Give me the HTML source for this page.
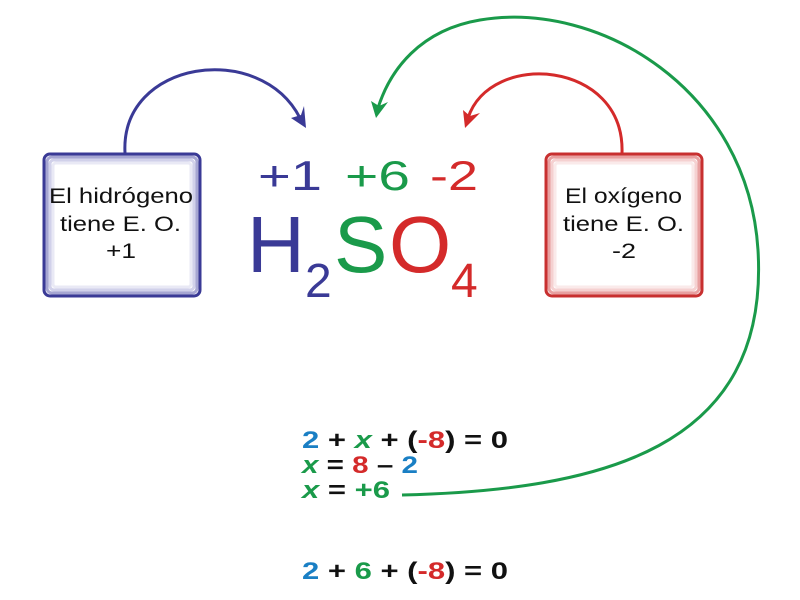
<!DOCTYPE html>
<html><head><meta charset="utf-8"><style>
body{margin:0;background:#fff}
svg{display:block}
text{font-family:"Liberation Sans",Verdana,sans-serif}
</style></head><body>
<svg width="800" height="600" viewBox="0 0 800 600">
<g>
<rect x="44" y="154" width="156" height="142" rx="6" fill="#fff" stroke="#3a3a96" stroke-width="3"/>
<rect x="47" y="157" width="150" height="136" rx="5" fill="none" stroke="#6a6ab4" stroke-width="3" opacity="0.6"/>
<rect x="50" y="160" width="144" height="130" rx="4" fill="none" stroke="#9a9ad0" stroke-width="3" opacity="0.45"/>
<rect x="53" y="163" width="138" height="124" rx="3" fill="none" stroke="#c8c8e6" stroke-width="3" opacity="0.4"/>
<text x="49" y="203" font-size="21" textLength="144" lengthAdjust="spacingAndGlyphs" fill="#111">El hidrógeno</text>
<text x="60" y="231" font-size="21" textLength="121" lengthAdjust="spacingAndGlyphs" fill="#111">tiene E. O.</text>
<text x="106" y="258" font-size="21" textLength="30" lengthAdjust="spacingAndGlyphs" fill="#111">+1</text>
</g>
<g>
<rect x="546" y="154" width="156" height="142" rx="6" fill="#fff" stroke="#c83030" stroke-width="3"/>
<rect x="549" y="157" width="150" height="136" rx="5" fill="none" stroke="#d86060" stroke-width="3" opacity="0.6"/>
<rect x="552" y="160" width="144" height="130" rx="4" fill="none" stroke="#e89a9a" stroke-width="3" opacity="0.45"/>
<rect x="555" y="163" width="138" height="124" rx="3" fill="none" stroke="#f2caca" stroke-width="3" opacity="0.4"/>
<text x="565" y="203" font-size="21" textLength="117" lengthAdjust="spacingAndGlyphs" fill="#111">El oxígeno</text>
<text x="563" y="231" font-size="21" textLength="121" lengthAdjust="spacingAndGlyphs" fill="#111">tiene E. O.</text>
<text x="612" y="258" font-size="21" textLength="24" lengthAdjust="spacingAndGlyphs" fill="#111">-2</text>
</g>
<path d="M125,153 C120,60 260,40 300,118" fill="none" stroke="#3a3a96" stroke-width="3"/>
<path d="M306,128 L291,118 L301,115 L304,106 Z" fill="#3a3a96"/>
<path d="M622,153 C625,60 490,50 468,118" fill="none" stroke="#d42a2a" stroke-width="3"/>
<path d="M465,128 L463,110 L470,116 L480,113 Z" fill="#d42a2a"/>
<path d="M402,495 C600,490 770,450 758,250 C748,90 600,0 480,20 C420,30 390,70 378,108" fill="none" stroke="#1a9a4a" stroke-width="3"/>
<path d="M376,118 L371,101 L379,106 L388,102 Z" fill="#1a9a4a"/>
<g font-size="42">
<text x="258" y="190" fill="#3a3a96" textLength="64" lengthAdjust="spacingAndGlyphs">+1</text>
<text x="345" y="190" fill="#1a9a4a" textLength="65" lengthAdjust="spacingAndGlyphs">+6</text>
<text x="430" y="190" fill="#d42a2a" textLength="48" lengthAdjust="spacingAndGlyphs">-2</text>
</g>
<g>
<text x="247" y="272" font-size="80" fill="#3a3a96">H</text>
<text x="305" y="297" font-size="48" fill="#3a3a96">2</text>
<text x="334" y="272" font-size="80" fill="#1a9a4a">S</text>
<text x="389" y="272" font-size="80" fill="#d42a2a">O</text>
<text x="451" y="297" font-size="48" fill="#d42a2a">4</text>
</g>
<g font-size="24" font-weight="bold" fill="#111">
<text x="302" y="448" textLength="206" lengthAdjust="spacingAndGlyphs" xml:space="preserve"><tspan fill="#1a7fc4">2</tspan> + <tspan fill="#1a9a4a" font-style="italic">x</tspan> + (<tspan fill="#d42a2a">-8</tspan>) = 0</text>
<text x="302" y="473" textLength="116" lengthAdjust="spacingAndGlyphs" xml:space="preserve"><tspan fill="#1a9a4a" font-style="italic">x</tspan> = <tspan fill="#d42a2a">8</tspan> – <tspan fill="#1a7fc4">2</tspan></text>
<text x="302" y="498" textLength="88" lengthAdjust="spacingAndGlyphs" xml:space="preserve"><tspan fill="#1a9a4a" font-style="italic">x</tspan> = <tspan fill="#1a9a4a">+6</tspan></text>
<text x="302" y="579" textLength="206" lengthAdjust="spacingAndGlyphs" xml:space="preserve"><tspan fill="#1a7fc4">2</tspan> + <tspan fill="#1a9a4a">6</tspan> + (<tspan fill="#d42a2a">-8</tspan>) = 0</text>
</g>
</svg>
</body></html>
